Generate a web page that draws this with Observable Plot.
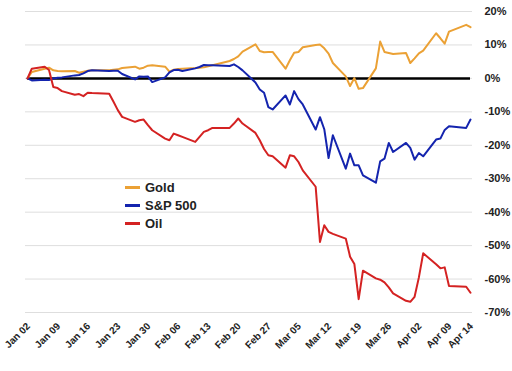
<!DOCTYPE html>
<html><head><meta charset="utf-8">
<script src="https://cdn.jsdelivr.net/npm/d3@7"></script>
<script src="https://cdn.jsdelivr.net/npm/@observablehq/plot@0.6"></script>
<style>
body{margin:0;background:#fff;font-family:"Liberation Sans",Arial,sans-serif;}
#wrap{position:relative;width:512px;height:371px;}
.legend{position:absolute;left:125px;top:178px;font-weight:bold;font-size:13px;color:#222;}
.legend div{height:18px;display:flex;align-items:center;white-space:nowrap;}
.legend span.sw{display:inline-block;width:15px;height:3px;margin-right:5px;}
</style></head><body><div id="wrap"></div>
<script>
const dates = [
"2020-01-02","2020-01-03","2020-01-06","2020-01-07","2020-01-08","2020-01-09","2020-01-10","2020-01-13","2020-01-14","2020-01-15","2020-01-16","2020-01-17","2020-01-21","2020-01-22","2020-01-23","2020-01-24","2020-01-27","2020-01-28","2020-01-29","2020-01-30","2020-01-31",
"2020-02-03","2020-02-04","2020-02-05","2020-02-06","2020-02-07","2020-02-10","2020-02-11","2020-02-12","2020-02-13","2020-02-14","2020-02-18","2020-02-19","2020-02-20","2020-02-21","2020-02-24","2020-02-25","2020-02-26","2020-02-27","2020-02-28",
"2020-03-02","2020-03-03","2020-03-04","2020-03-05","2020-03-06","2020-03-09","2020-03-10","2020-03-11","2020-03-12","2020-03-13","2020-03-16","2020-03-17","2020-03-18","2020-03-19","2020-03-20","2020-03-23","2020-03-24","2020-03-25","2020-03-26","2020-03-27","2020-03-30","2020-03-31",
"2020-04-01","2020-04-02","2020-04-03","2020-04-06","2020-04-07","2020-04-08","2020-04-09","2020-04-13","2020-04-14"];
const gold = [
0,1.9,2.9,3.2,2.4,2.2,2.1,2.2,1.7,2.0,2.3,2.4,2.4,2.6,2.7,3.1,3.5,2.9,3.2,3.8,3.9,
3.5,2.0,2.6,2.8,2.9,3.1,3.2,3.3,3.6,3.9,5.2,5.8,6.6,8.0,10.2,8.2,7.8,7.9,7.9,
2.9,5.4,7.7,7.9,9.3,10.0,10.1,9.0,7.4,4.6,0.6,-2.3,0.1,-3.1,-2.9,3.0,11.0,7.9,7.6,7.3,7.6,4.6,
6.0,7.5,8.3,13.5,12.0,10.4,14.0,16.0,15.3];
const sp500 = [
0,-0.6,-0.4,-0.5,0.0,0.2,0.3,0.9,1.0,1.5,2.2,2.4,2.2,2.3,2.3,1.3,-0.3,0.6,0.5,0.6,-1.1,
0.3,1.8,2.5,2.6,2.2,3.0,3.4,4.0,3.9,3.9,3.7,4.2,3.4,2.4,-1.2,-3.3,-4.3,-8.6,-9.3,
-5.1,-7.8,-3.8,-6.2,-7.8,-15.3,-11.6,-15.2,-23.8,-17.0,-27.0,-22.5,-26.0,-26.0,-29.0,-31.2,-24.8,-24.0,-19.3,-22.0,-19.3,-20.8,
-24.3,-22.3,-23.3,-18.3,-18.0,-15.4,-14.3,-14.8,-12.3];
const oil = [
0,2.9,3.5,2.5,-2.6,-2.9,-3.8,-4.9,-4.7,-5.3,-4.3,-4.4,-4.6,-7.0,-9.5,-11.5,-13.0,-12.5,-12.3,-14.0,-15.5,
-18.0,-18.5,-16.5,-17.0,-17.5,-19.0,-17.5,-16.0,-15.5,-14.8,-14.8,-13.5,-12.0,-13.5,-16.3,-18.5,-21.1,-23.0,-23.3,
-26.7,-23.0,-23.3,-25.0,-27.5,-32.4,-48.9,-43.9,-45.9,-46.5,-47.9,-53.3,-55.5,-66.0,-57.5,-59.8,-60.2,-61.0,-62.5,-64.3,-66.5,-66.8,
-65.3,-59.5,-52.3,-55.6,-56.8,-56.5,-62.1,-62.3,-64.1];
const tickDates = ["2020-01-02","2020-01-09","2020-01-16","2020-01-23","2020-01-30","2020-02-06","2020-02-13","2020-02-20","2020-02-27","2020-03-05","2020-03-12","2020-03-19","2020-03-26","2020-04-02","2020-04-09","2020-04-14"];
const tickLabels = ["Jan 02","Jan 09","Jan 16","Jan 23","Jan 30","Feb 06","Feb 13","Feb 20","Feb 27","Mar 05","Mar 12","Mar 19","Mar 26","Apr 02","Apr 09","Apr 14"];
const yTicks = [20,10,0,-10,-20,-30,-40,-50,-60,-70];
const seriesNames = ["Gold","S&P 500","Oil"];
const seriesColors = ["#EBA135","#1424AE","#D42222"];

const parse = d3.utcParse("%Y-%m-%d");
const D = dates.map(parse);
const mk = arr => arr.map((v,i)=>({date:D[i], v}));
const tickD = tickDates.map(parse);
const labelMap = new Map(tickD.map((d,i)=>[+d, tickLabels[i]]));

const chart = Plot.plot({
  width:512, height:371,
  marginLeft:25, marginRight:40, marginTop:11, marginBottom:59,
  style:{fontFamily:"'Liberation Sans', Arial, sans-serif", background:"white"},
  x:{type:"utc", domain:[D[0], D[D.length-1]], range:[27,470]},
  y:{domain:[-70,20]},
  marks:[
    Plot.gridY(yTicks, {stroke:"#dedede", strokeOpacity:1, strokeWidth:1}),
    Plot.axisY(yTicks, {anchor:"right", tickSize:0, tickPadding:12, tickFormat:d=>d+"%", fontSize:11, fontWeight:"bold", fill:"#222"}),
    Plot.axisX(tickD, {anchor:"bottom", tickSize:0, tickPadding:12, tickRotate:-45, textAnchor:"end", tickFormat:d=>labelMap.get(+d), fontSize:10, fontWeight:"bold", fill:"#222", dx:1}),
    Plot.ruleY([{y:0, x1:D[0], x2:D[D.length-1]}], {y:"y", x1:"x1", x2:"x2", stroke:"#000", strokeWidth:2.5}),
    Plot.lineY(mk(gold), {x:"date", y:"v", stroke:seriesColors[0], strokeWidth:2}),
    Plot.lineY(mk(sp500), {x:"date", y:"v", stroke:seriesColors[1], strokeWidth:2}),
    Plot.lineY(mk(oil), {x:"date", y:"v", stroke:seriesColors[2], strokeWidth:2})
  ]
});
const wrap = document.getElementById("wrap");
wrap.appendChild(chart);
const leg = document.createElement("div");
leg.className = "legend";
seriesNames.forEach((n,i)=>{
  const r = document.createElement("div");
  const sw = document.createElement("span");
  sw.className="sw"; sw.style.background=seriesColors[i];
  r.appendChild(sw);
  r.appendChild(document.createTextNode(n));
  leg.appendChild(r);
});
wrap.appendChild(leg);
</script></body></html>
